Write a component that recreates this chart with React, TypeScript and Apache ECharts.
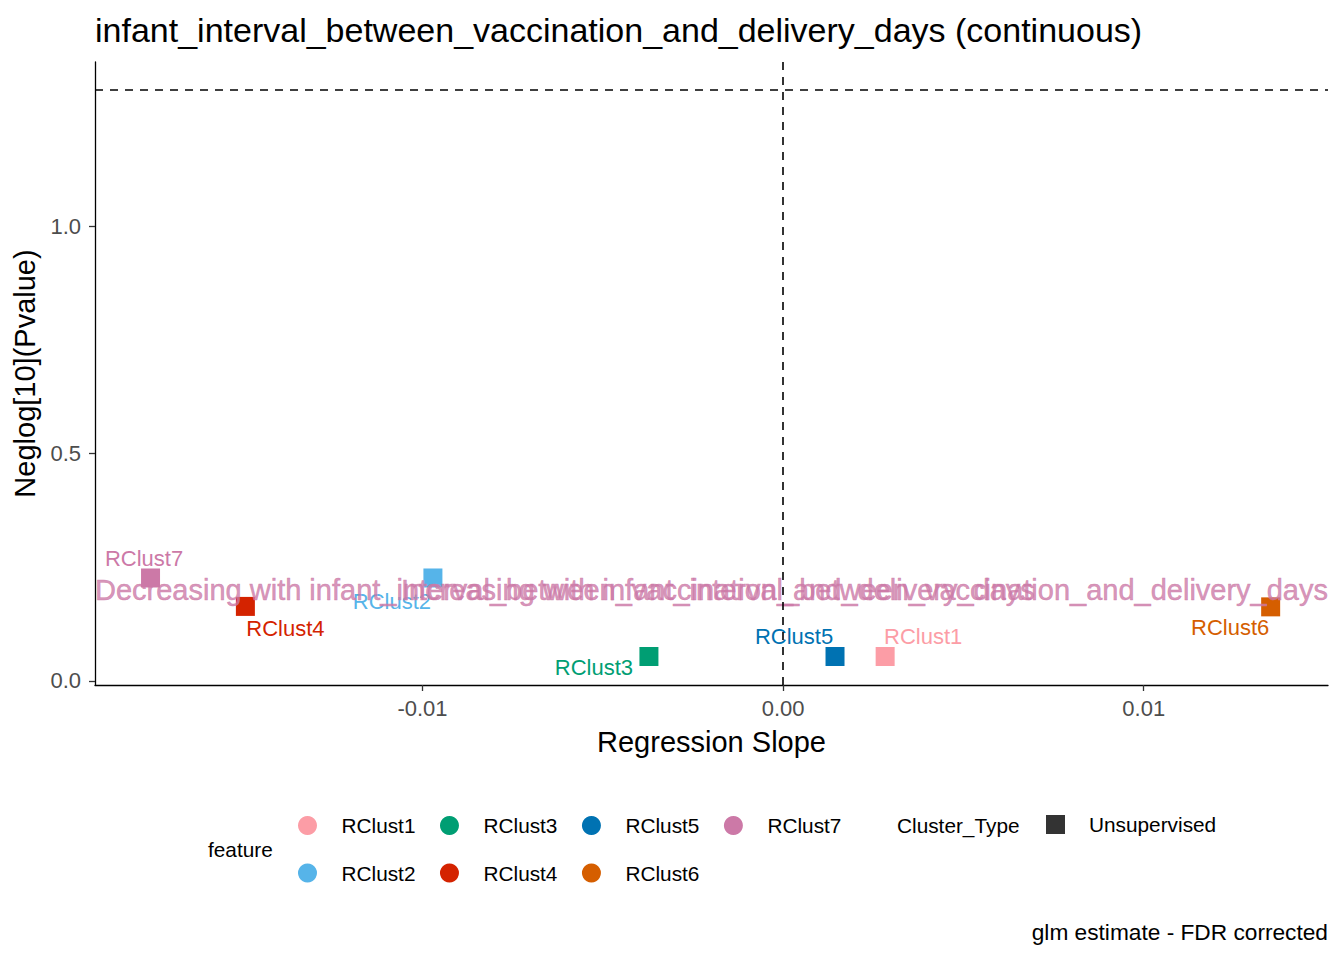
import React, { useEffect, useRef } from "react";
import * as echarts from "echarts";

// ---- data ----
const categories = ["RClust1", "RClust2", "RClust3", "RClust4", "RClust5", "RClust6", "RClust7"];
const slopes = [0.00283, -0.00971, -0.00372, -0.01491, 0.00144, 0.01352, -0.01754];
const neglogP = [0.0539, 0.2265, 0.0539, 0.164, 0.0539, 0.163, 0.2265];
const clusterType = "Unsupervised";
const xLimits = [-0.01908, 0.01511];
const yLimits = [-0.0088, 1.361];
const xTicks = [-0.01, 0, 0.01];
const yTicks = [0, 0.5, 1.0];
const pThreshold = -Math.log10(0.05);
const verticalRef = 0;
const annotationY = 0.2;
const decreasingText = "Decreasing with infant_interval_between_vaccination_and_delivery_days";
const increasingText = "Increasing with infant_interval_between_vaccination_and_delivery_days";
const titleText = "infant_interval_between_vaccination_and_delivery_days (continuous)";
const captionText = "glm estimate - FDR corrected";

// ---- styles ----
const colors = ["#FC9DA6", "#56B4E9", "#009E73", "#D42300", "#0072B2", "#D55E00", "#CC79A7"];
const labelOffsets: number[][] = [
  [38, -19.5],
  [-41, 24],
  [-55, 11.5],
  [40, 22],
  [-41, -19.5],
  [-40.5, 21],
  [-6.5, -19],
];
const FONT = "'Liberation Sans', Arial, sans-serif";

function buildOption() {
  const pointSeries = categories.map((name, i) => ({
    type: "scatter",
    name,
    data: [[slopes[i], neglogP[i]]],
    symbol: "rect",
    symbolSize: 19,
    itemStyle: { color: colors[i], opacity: 1 },
    label: {
      show: true,
      position: "inside",
      offset: labelOffsets[i],
      formatter: "{a}",
      color: colors[i],
      fontSize: 22,
      fontFamily: FONT,
    },
    z: 3,
    silent: true,
  }));

  const refSeries = {
    type: "scatter",
    name: "refs",
    data: [],
    silent: true,
    markLine: {
      silent: true,
      symbol: "none",
      animation: false,
      label: { show: false },
      lineStyle: { color: "#000", type: [8, 7], width: 1.6 },
      data: [{ xAxis: verticalRef }, { yAxis: pThreshold }],
    },
  };

  const annLabel = {
    show: true,
    distance: 0,
    color: "#CC79A7",
    fontSize: 29,
    fontFamily: FONT,
    textBorderColor: "#CC79A7",
    textBorderWidth: 0.5,
  };

  const decSeries = {
    type: "scatter",
    name: "decreasing",
    data: [[xLimits[0], annotationY]],
    symbolSize: 0,
    clip: false,
    silent: true,
    z: 4,
    label: { ...annLabel, position: "right", formatter: decreasingText },
  };
  const incSeries = {
    type: "scatter",
    name: "increasing",
    data: [[xLimits[1], annotationY]],
    symbolSize: 0,
    clip: false,
    silent: true,
    z: 4,
    label: { ...annLabel, position: "left", formatter: increasingText },
  };

  const typeSeries = {
    type: "scatter",
    name: clusterType,
    data: [],
    symbol: "rect",
    itemStyle: { color: "#000" },
  };

  const legendText = { fontSize: 20.8, color: "#000", fontFamily: FONT, padding: [0, 0, 0, 19.5] };
  const legendCommon = {
    orient: "horizontal",
    padding: 0,
    selectedMode: false,
    itemWidth: 19,
    itemHeight: 19,
    textStyle: legendText,
  };

  return {
    animation: false,
    textStyle: { fontFamily: FONT },
    title: {
      text: titleText,
      left: 95,
      top: 13,
      padding: 0,
      textStyle: { fontSize: 34, fontWeight: "normal", color: "#000", fontFamily: FONT },
    },
    grid: { left: 95, right: 16, top: 62, bottom: 275, containLabel: false },
    xAxis: {
      type: "value",
      min: xLimits[0],
      max: xLimits[1],
      name: "Regression Slope",
      nameLocation: "middle",
      nameGap: 42,
      nameTextStyle: { fontSize: 29, color: "#000", fontFamily: FONT },
      splitLine: { show: false },
      axisLine: { show: true, onZero: false, lineStyle: { color: "#000", width: 1.3 } },
      axisTick: { show: true, length: 6, customValues: xTicks, lineStyle: { color: "#333", width: 1.3 } },
      axisLabel: {
        show: true,
        customValues: xTicks,
        margin: 12,
        fontSize: 22,
        color: "#4D4D4D",
        fontFamily: FONT,
        formatter: (v: number) => v.toFixed(2),
      },
    },
    yAxis: {
      type: "value",
      min: yLimits[0],
      max: yLimits[1],
      name: "Neglog[10](Pvalue)",
      nameLocation: "middle",
      nameGap: 52,
      nameTextStyle: { fontSize: 29, color: "#000", fontFamily: FONT },
      splitLine: { show: false },
      axisLine: { show: true, onZero: false, lineStyle: { color: "#000", width: 1.3 } },
      axisTick: { show: true, length: 6, customValues: yTicks, lineStyle: { color: "#333", width: 1.3 } },
      axisLabel: {
        show: true,
        customValues: yTicks,
        margin: 14,
        fontSize: 22,
        color: "#4D4D4D",
        fontFamily: FONT,
        formatter: (v: number) => v.toFixed(1),
      },
    },
    legend: [
      {
        ...legendCommon,
        data: [categories[0], categories[2], categories[4], categories[6]],
        icon: "circle",
        itemGap: 24.5,
        left: 298,
        top: 815,
      },
      {
        ...legendCommon,
        data: [categories[1], categories[3], categories[5]],
        icon: "circle",
        itemGap: 24.5,
        left: 298,
        top: 862.5,
      },
      {
        ...legendCommon,
        data: [{ name: clusterType, itemStyle: { color: "#000" } }],
        icon: "rect",
        left: 1046,
        top: 814,
        textStyle: { ...legendText, padding: [0, 0, 0, 19] },
      },
    ],
    graphic: [
      {
        type: "text",
        x: 208,
        y: 849,
        style: { text: "feature", fill: "#000", fontSize: 20.8, fontFamily: FONT, align: "left", verticalAlign: "middle" },
      },
      {
        type: "text",
        x: 897,
        y: 825,
        style: { text: "Cluster_Type", fill: "#000", fontSize: 20.8, fontFamily: FONT, align: "left", verticalAlign: "middle" },
      },
      {
        type: "text",
        x: 1328,
        y: 932,
        style: { text: captionText, fill: "#000", fontSize: 22.7, fontFamily: FONT, align: "right", verticalAlign: "middle" },
      },
    ],
    series: [refSeries, ...pointSeries, typeSeries, decSeries, incSeries],
  };
}

export default function App() {
  const ref = useRef<HTMLDivElement>(null);
  useEffect(() => {
    document.body.style.margin = "0";
    const chart = echarts.init(ref.current as HTMLDivElement, null, { renderer: "svg" });
    chart.setOption(buildOption() as any);
    return () => chart.dispose();
  }, []);
  return <div ref={ref} style={{ width: 1344, height: 960, background: "#fff" }} />;
}
